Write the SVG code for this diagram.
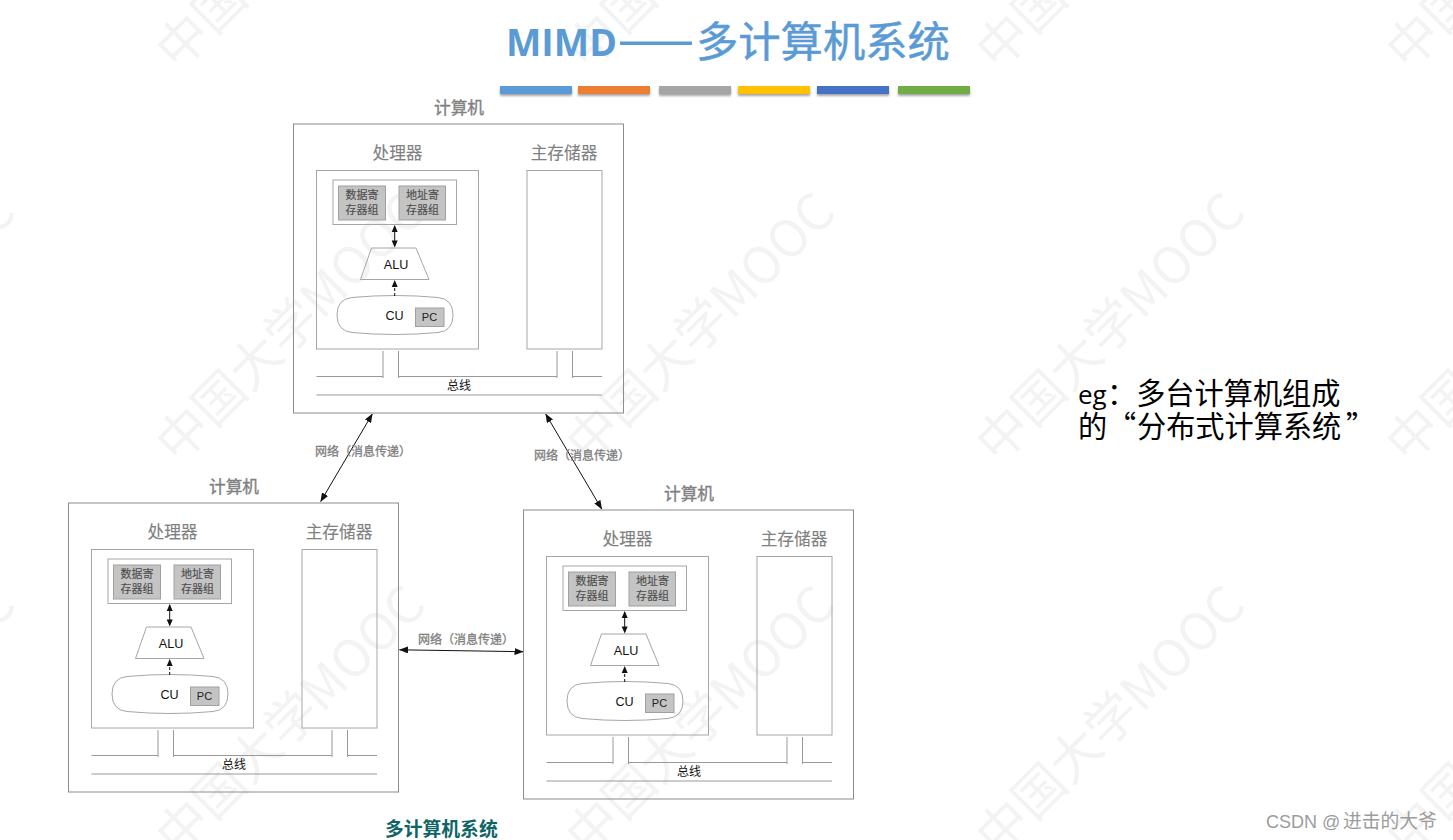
<svg xmlns="http://www.w3.org/2000/svg" width="1453" height="840" viewBox="0 0 1453 840">
<style>
text{font-family:"Liberation Sans","Noto Sans CJK SC",sans-serif}
.cjk{font-family:"Noto Sans CJK SC",sans-serif}
.wm{font-family:"Noto Sans CJK SC",sans-serif;font-size:51px;fill:#f3f3f3}
.box{fill:none;stroke:#8c8c8c;stroke-width:1}
.inner{fill:none;stroke:#a6a6a6;stroke-width:1}
.reg{fill:#c4c4c4;stroke:#a0a0a0;stroke-width:1}
.bus{fill:none;stroke:#999;stroke-width:1}
.head{font-family:"Noto Sans CJK SC",sans-serif;font-size:16.7px;fill:#808080;text-anchor:middle;stroke:#808080;stroke-width:.12}
.h1{stroke-width:.35}
.r{font-family:"Noto Sans CJK SC",sans-serif;font-size:11px;fill:#4d4d4d;stroke:#4d4d4d;stroke-width:.15;text-anchor:middle}
.b{font-size:12.6px;fill:#111;text-anchor:middle}
.pc{font-size:11px;fill:#222;text-anchor:middle}
.net{font-family:"Noto Sans CJK SC",sans-serif;font-size:12px;fill:#808080;stroke:#808080;stroke-width:.3}
.arr{fill:none;stroke:#111;stroke-width:1;marker-start:url(#ah);marker-end:url(#ah)}
.bar{filter:url(#sh)}
</style>
<defs>
<marker id="ah" viewBox="0 0 9 7" refX="8.5" refY="3.5" markerWidth="9" markerHeight="7" markerUnits="userSpaceOnUse" orient="auto-start-reverse"><path d="M0 0L9 3.5L0 7z" fill="#111"/></marker>
<filter id="sh" x="-10%" y="-50%" width="120%" height="220%"><feDropShadow dx="0" dy="2" stdDeviation="1.3" flood-color="#000" flood-opacity=".35"/></filter>
</defs>
<rect width="1453" height="840" fill="#fff"/>
<g id="watermark">
<text class="wm" transform="translate(-232,72) rotate(-45)">中国大学MOOC</text>
<text class="wm" transform="translate(178,72) rotate(-45)">中国大学MOOC</text>
<text class="wm" transform="translate(588,72) rotate(-45)">中国大学MOOC</text>
<text class="wm" transform="translate(998,72) rotate(-45)">中国大学MOOC</text>
<text class="wm" transform="translate(1408,72) rotate(-45)">中国大学MOOC</text>
<text class="wm" transform="translate(-232,465) rotate(-45)">中国大学MOOC</text>
<text class="wm" transform="translate(178,465) rotate(-45)">中国大学MOOC</text>
<text class="wm" transform="translate(588,465) rotate(-45)">中国大学MOOC</text>
<text class="wm" transform="translate(998,465) rotate(-45)">中国大学MOOC</text>
<text class="wm" transform="translate(1408,465) rotate(-45)">中国大学MOOC</text>
<text class="wm" transform="translate(-232,858) rotate(-45)">中国大学MOOC</text>
<text class="wm" transform="translate(178,858) rotate(-45)">中国大学MOOC</text>
<text class="wm" transform="translate(588,858) rotate(-45)">中国大学MOOC</text>
<text class="wm" transform="translate(998,858) rotate(-45)">中国大学MOOC</text>
<text class="wm" transform="translate(1408,858) rotate(-45)">中国大学MOOC</text>
</g>
<g id="title">
<text x="506" y="56" font-size="37.500" font-weight="700" fill="#5b9bd5" style="font-family:'Open Sans',sans-serif">MIMD</text>
<rect x="620" y="41.500" width="72" height="3.500" fill="#5b9bd5"/>
<text class="cjk" x="696" y="57" font-size="42.300" fill="#5b9bd5" stroke="#5b9bd5" stroke-width=".5">多计算机系统</text>
</g>
<g id="title-bars">
<rect class="bar" x="500" y="86" width="72" height="8" fill="#5b9bd5"/>
<rect class="bar" x="578" y="86" width="72" height="8" fill="#ed7d31"/>
<rect class="bar" x="659" y="86" width="72" height="8" fill="#a5a5a5"/>
<rect class="bar" x="738" y="86" width="72" height="8" fill="#ffc000"/>
<rect class="bar" x="817" y="86" width="72" height="8" fill="#4472c4"/>
<rect class="bar" x="898" y="86" width="72" height="8" fill="#70ad47"/>
</g>
<g id="computer-top">
<text class="head h1" x="459" y="114">计算机</text>
<rect class="box" x="293.5" y="124" width="330" height="289"/>
<text class="head" x="397.5" y="159">处理器</text>
<text class="head" x="564" y="159">主存储器</text>
<rect class="inner" x="316.5" y="170.5" width="162" height="178.5"/>
<rect class="inner" x="527" y="170.5" width="75" height="178.5"/>
<rect class="inner" x="333" y="180" width="123.5" height="44.5"/>
<rect class="reg" x="338.5" y="186" width="47" height="34"/>
<rect class="reg" x="399" y="186" width="46.5" height="34"/>
<text class="r" x="362" y="198.500">数据寄</text><text class="r" x="362" y="214">存器组</text>
<text class="r" x="422.500" y="198.500">地址寄</text><text class="r" x="422.500" y="214">存器组</text>
<path class="inner" d="M371.500 248H416L429 279.500H360.500Z"/>
<text class="b" x="396" y="268.500">ALU</text>
<path class="inner" d="M352 297.500Q395 293.500 438 297.500Q453 299 453 315Q453 331 438 332.500Q395 336.500 352 332.500Q337 331 337 315Q337 299 352 297.500Z"/>
<text class="b" x="394.500" y="319.500">CU</text>
<rect class="reg" x="415.500" y="308" width="28.500" height="18.500"/>
<text class="pc" x="429.500" y="321">PC</text>
<path class="bus" d="M316.500 376.500H383M398.500 376.500H557M572.500 376.500H602M316.500 395H602M383 351V378M398.500 351V378M557 351V378M572.500 351V378"/>
<text class="b cjk" x="459" y="390" style="font-size:12px">总线</text>
<path fill="none" stroke="#111" d="M394.700 226V246"/>
<path d="M394.700 225L391.700 232H397.700ZM394.700 247.500L391.700 240.500H397.700Z" fill="#111"/>
<path fill="none" stroke="#111" stroke-dasharray="3 2" d="M394.700 296V286"/>
<path d="M394.700 280L391.700 287H397.700Z" fill="#111"/>
</g>
<g id="computer-left" transform="translate(-225,379)">
<text class="head h1" x="459" y="114">计算机</text>
<rect class="box" x="293.5" y="124" width="330" height="289"/>
<text class="head" x="397.5" y="159">处理器</text>
<text class="head" x="564" y="159">主存储器</text>
<rect class="inner" x="316.5" y="170.5" width="162" height="178.5"/>
<rect class="inner" x="527" y="170.5" width="75" height="178.5"/>
<rect class="inner" x="333" y="180" width="123.5" height="44.5"/>
<rect class="reg" x="338.5" y="186" width="47" height="34"/>
<rect class="reg" x="399" y="186" width="46.5" height="34"/>
<text class="r" x="362" y="198.500">数据寄</text><text class="r" x="362" y="214">存器组</text>
<text class="r" x="422.500" y="198.500">地址寄</text><text class="r" x="422.500" y="214">存器组</text>
<path class="inner" d="M371.500 248H416L429 279.500H360.500Z"/>
<text class="b" x="396" y="268.500">ALU</text>
<path class="inner" d="M352 297.500Q395 293.500 438 297.500Q453 299 453 315Q453 331 438 332.500Q395 336.500 352 332.500Q337 331 337 315Q337 299 352 297.500Z"/>
<text class="b" x="394.500" y="319.500">CU</text>
<rect class="reg" x="415.500" y="308" width="28.500" height="18.500"/>
<text class="pc" x="429.500" y="321">PC</text>
<path class="bus" d="M316.500 376.500H383M398.500 376.500H557M572.500 376.500H602M316.500 395H602M383 351V378M398.500 351V378M557 351V378M572.500 351V378"/>
<text class="b cjk" x="459" y="390" style="font-size:12px">总线</text>
<path fill="none" stroke="#111" d="M394.700 226V246"/>
<path d="M394.700 225L391.700 232H397.700ZM394.700 247.500L391.700 240.500H397.700Z" fill="#111"/>
<path fill="none" stroke="#111" stroke-dasharray="3 2" d="M394.700 296V286"/>
<path d="M394.700 280L391.700 287H397.700Z" fill="#111"/>
</g>
<g id="computer-right" transform="translate(230,386)">
<text class="head h1" x="459" y="114">计算机</text>
<rect class="box" x="293.5" y="124" width="330" height="289"/>
<text class="head" x="397.5" y="159">处理器</text>
<text class="head" x="564" y="159">主存储器</text>
<rect class="inner" x="316.5" y="170.5" width="162" height="178.5"/>
<rect class="inner" x="527" y="170.5" width="75" height="178.5"/>
<rect class="inner" x="333" y="180" width="123.5" height="44.5"/>
<rect class="reg" x="338.5" y="186" width="47" height="34"/>
<rect class="reg" x="399" y="186" width="46.5" height="34"/>
<text class="r" x="362" y="198.500">数据寄</text><text class="r" x="362" y="214">存器组</text>
<text class="r" x="422.500" y="198.500">地址寄</text><text class="r" x="422.500" y="214">存器组</text>
<path class="inner" d="M371.500 248H416L429 279.500H360.500Z"/>
<text class="b" x="396" y="268.500">ALU</text>
<path class="inner" d="M352 297.500Q395 293.500 438 297.500Q453 299 453 315Q453 331 438 332.500Q395 336.500 352 332.500Q337 331 337 315Q337 299 352 297.500Z"/>
<text class="b" x="394.500" y="319.500">CU</text>
<rect class="reg" x="415.500" y="308" width="28.500" height="18.500"/>
<text class="pc" x="429.500" y="321">PC</text>
<path class="bus" d="M316.500 376.500H383M398.500 376.500H557M572.500 376.500H602M316.500 395H602M383 351V378M398.500 351V378M557 351V378M572.500 351V378"/>
<text class="b cjk" x="459" y="390" style="font-size:12px">总线</text>
<path fill="none" stroke="#111" d="M394.700 226V246"/>
<path d="M394.700 225L391.700 232H397.700ZM394.700 247.500L391.700 240.500H397.700Z" fill="#111"/>
<path fill="none" stroke="#111" stroke-dasharray="3 2" d="M394.700 296V286"/>
<path d="M394.700 280L391.700 287H397.700Z" fill="#111"/>
</g>
<g id="connectors">
<line class="arr" x1="372.300" y1="414" x2="320.700" y2="501.500"/>
<line class="arr" x1="545.700" y1="414" x2="601.700" y2="509"/>
<line class="arr" x1="399.500" y1="649.800" x2="523" y2="651.700"/>
</g>
<g id="network-labels">
<text class="net" x="315" y="455.500">网络（消息传递）</text>
<text class="net" x="534" y="459.500">网络（消息传递）</text>
<text class="net" x="418" y="643.500">网络（消息传递）</text>
</g>
<g id="note">
<text class="cjk" x="1078" y="404" font-size="29.200" fill="#000"><tspan font-size="26" style="font-family:'Open Sans',sans-serif">eg</tspan><tspan x="1107">：多台计算机组成</tspan></text>
<text class="cjk" x="1078" y="437" font-size="29.200" fill="#000">的<tspan x="1107">“</tspan><tspan x="1137">分布式计算系统</tspan><tspan x="1346">”</tspan></text>
</g>
<text id="caption" class="cjk" x="385" y="836" font-size="18.800" font-weight="700" fill="#0f6466">多计算机系统</text>
<text id="credit" x="1266" y="827.500" font-size="18" fill="#9c9c9c">CSDN @<tspan x="1343" font-size="18.800">进击的大爷</tspan></text>
</svg>
